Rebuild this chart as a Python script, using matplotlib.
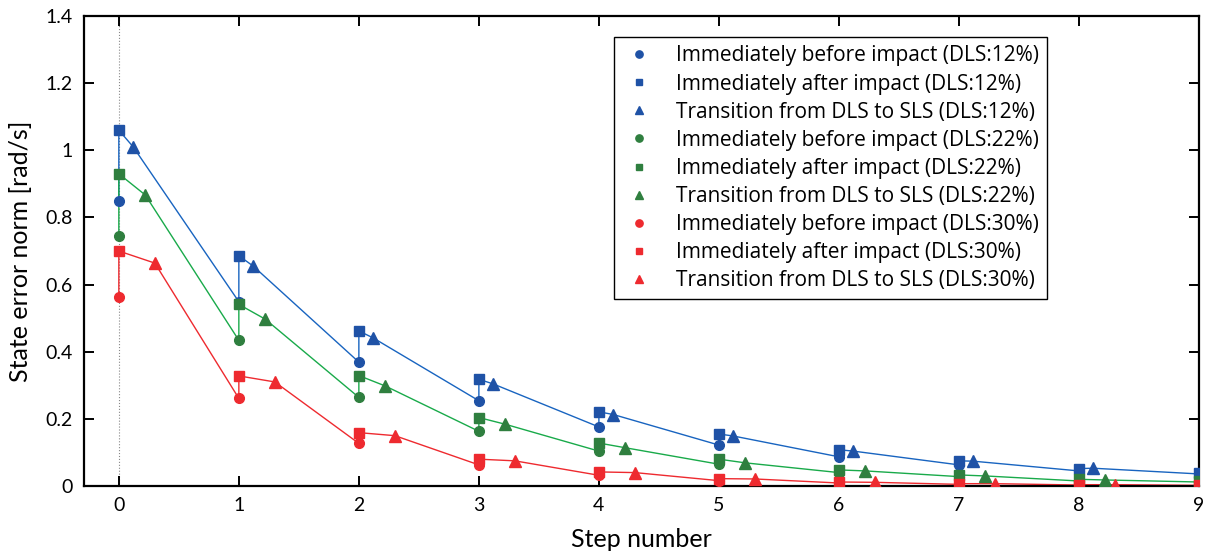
import numpy as np
import matplotlib.pyplot as plt
from matplotlib.ticker import FormatStrFormatter

plt.rcParams['font.family'] = ['Lato', 'DejaVu Sans']

steps = np.arange(10)

# state error norm per step, for each DLS ratio
before_12 = [0.850, 0.549, 0.369, 0.254, 0.176, 0.122, 0.087, 0.063, 0.045, 0.036]
after_12 = [1.060, 0.686, 0.462, 0.318, 0.221, 0.155, 0.108, 0.075, 0.052, 0.040]
trans_12 = [1.010, 0.655, 0.441, 0.304, 0.213, 0.149, 0.104, 0.074, 0.053]

before_22 = [0.745, 0.434, 0.264, 0.163, 0.104, 0.065, 0.040, 0.028, 0.015, 0.012]
after_22 = [0.930, 0.541, 0.329, 0.204, 0.128, 0.080, 0.048, 0.033, 0.020, 0.015]
trans_22 = [0.867, 0.497, 0.298, 0.184, 0.114, 0.069, 0.045, 0.030, 0.018]

before_30 = [0.563, 0.261, 0.127, 0.063, 0.032, 0.016, 0.009, 0.005, 0.003, 0.002]
after_30 = [0.700, 0.328, 0.159, 0.080, 0.042, 0.022, 0.012, 0.007, 0.004, 0.003]
trans_30 = [0.664, 0.310, 0.150, 0.075, 0.040, 0.021, 0.011, 0.007, 0.004]

ratios = [0.12, 0.22, 0.30]
labels = ['12%', '22%', '30%']
line_colors = ['#1864c0', '#19aa4a', '#ee2a2f']
marker_colors = ['#1f52a6', '#2f7f3f', '#ee2a2f']

series = [(before_12, after_12, trans_12),
          (before_22, after_22, trans_22),
          (before_30, after_30, trans_30)]

fig = plt.figure(figsize=(12.09, 5.54), dpi=100)
ax = fig.add_axes([0.0695, 0.1227, 0.9222, 0.8484])

ax.axvline(0, color='#888888', linestyle=':', linewidth=0.8, zorder=0)

handles = []
for (before, after, trans), r, lab, lc, mc in zip(series, ratios, labels, line_colors, marker_colors):
    # trajectory: before impact -> after impact -> transition -> next step
    xs, ys = [], []
    for i in steps:
        xs += [i, i]
        ys += [before[i], after[i]]
        if i < len(trans):
            xs.append(i + r)
            ys.append(trans[i])
    ax.plot(xs, ys, color=lc, linewidth=1.0, zorder=2)

    h1, = ax.plot(steps, before, 'o', color=mc, markersize=7, linestyle='none', zorder=3,
                  label='Immediately before impact (DLS:%s)' % lab)
    h2, = ax.plot(steps, after, 's', color=mc, markersize=6.5, linestyle='none', zorder=3,
                  label='Immediately after impact (DLS:%s)' % lab)
    h3, = ax.plot(steps[:len(trans)] + r, trans, '^', color=mc, markersize=8.5, linestyle='none', zorder=3,
                  label='Transition from DLS to SLS (DLS:%s)' % lab)
    handles += [h1, h2, h3]

ax.set_xlim(-0.29, 9)
ax.set_ylim(0, 1.4)
ax.set_xticks(range(10))
ax.set_yticks(np.arange(0, 1.41, 0.2))
ax.yaxis.set_major_formatter(FormatStrFormatter('%g'))

for sp in ax.spines.values():
    sp.set_linewidth(1.6)
ax.tick_params(direction='in', length=7, width=1.4, labelsize=14, top=True, right=True, pad=8)

ax.set_xlabel('Step number', fontsize=18, labelpad=10)
ax.set_ylabel('State error norm [rad/s]', fontsize=18, labelpad=10)

leg = ax.legend(handles=handles, loc='upper right', bbox_to_anchor=(0.864, 0.955),
                borderaxespad=0, prop={'family': 'Open Sans', 'size': 15},
                fancybox=False, edgecolor='black', framealpha=1,
                labelspacing=0.34, handlelength=1.6, handletextpad=1.0,
                markerscale=0.75, borderpad=0.4)
leg.get_frame().set_linewidth(1.0)

fig.savefig('out.png', dpi=100)
